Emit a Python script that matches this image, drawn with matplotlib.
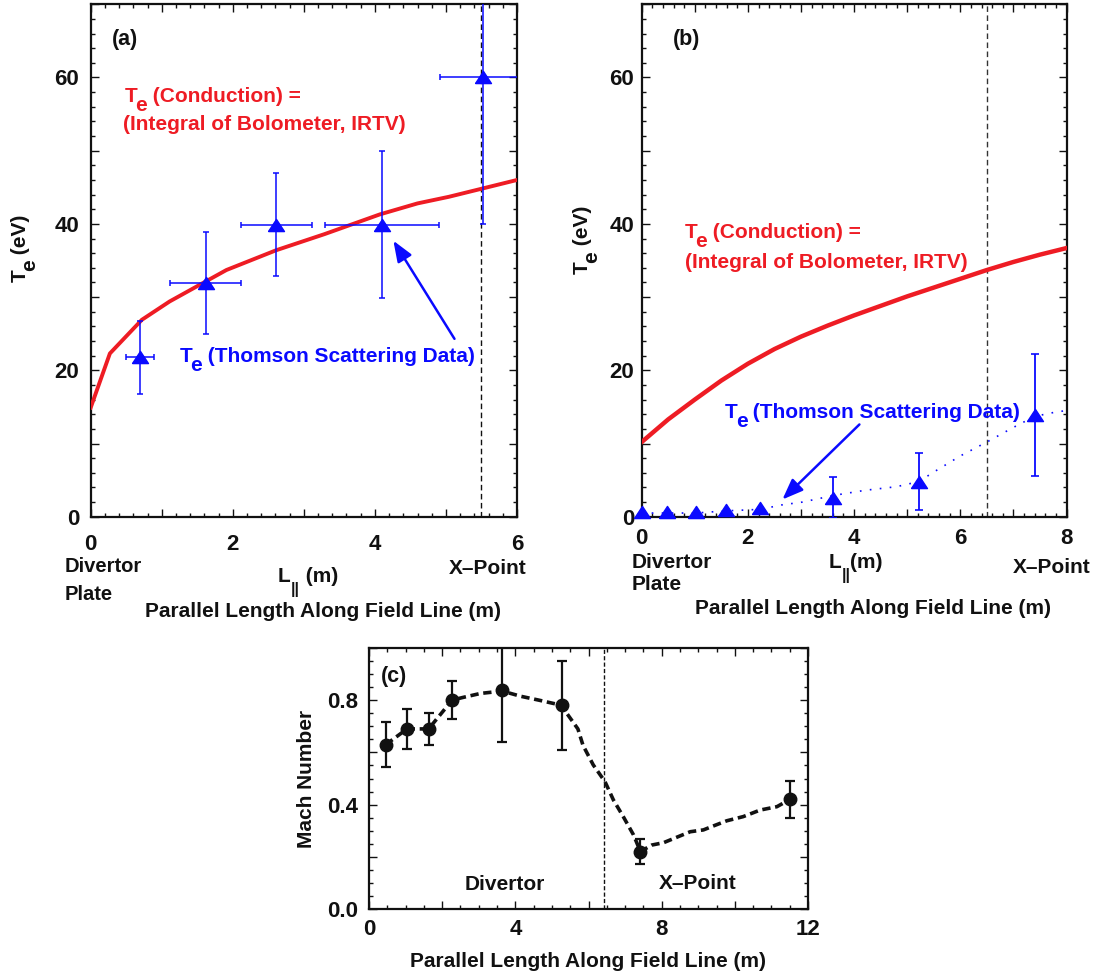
import matplotlib
matplotlib.use('Agg')
import matplotlib.pyplot as plt
from matplotlib.ticker import MultipleLocator, FuncFormatter

# ---------------- data ----------------
# panel (a)
a_curve_x = [0.0, 0.27, 0.72, 1.11, 1.91, 2.61, 3.29, 4.07, 4.6, 5.04, 5.5, 6.0]
a_curve_y = [14.9, 22.3, 26.9, 29.4, 33.7, 36.4, 38.6, 41.3, 42.8, 43.7, 44.8, 46.0]
a_ts_x = [0.69, 1.62, 2.61, 4.10, 5.52]
a_ts_y = [21.8, 31.9, 39.9, 39.9, 60.0]
a_ts_xerr = [0.2, 0.5, 0.5, 0.8, 0.6]
a_ts_yerr = [5.0, 7.0, 7.0, 10.0, 20.0]
a_xpoint = 5.5

# panel (b)
b_curve_x = [0.0, 0.5, 1.0, 1.5, 2.0, 2.5, 3.0, 3.5, 4.0, 4.5, 5.0, 5.5, 6.0, 6.5, 7.0, 7.5, 8.0]
b_curve_y = [10.2, 13.3, 16.0, 18.6, 20.9, 22.9, 24.6, 26.1, 27.5, 28.8, 30.1, 31.3, 32.5,
             33.7, 34.8, 35.8, 36.7]
b_ts_x = [0.0, 0.47, 1.02, 1.59, 2.23, 3.61, 5.22, 7.40]
b_ts_y = [0.6, 0.6, 0.6, 0.9, 1.2, 2.6, 4.8, 13.9]
b_ts_yerr = [0.0, 0.0, 0.0, 0.0, 0.0, 2.8, 3.95, 8.3]
b_fit_x = [0.0, 0.47, 1.02, 1.59, 2.23, 2.63, 3.03, 3.61, 4.2, 4.8, 5.22, 5.5, 6.0, 6.5, 7.0, 7.4, 7.8, 8.0]
b_fit_y = [0.5, 0.5, 0.5, 0.8, 1.0, 1.6, 2.0, 2.9, 3.6, 4.1, 4.8, 6.1, 8.3, 10.2, 12.2, 13.7, 14.3, 14.5]
b_xpoint = 6.5

# panel (c)
c_x = [0.46, 1.04, 1.63, 2.27, 3.64, 5.28, 7.42, 11.51]
c_y = [0.63, 0.69, 0.69, 0.80, 0.84, 0.78, 0.22, 0.42]
c_err = [0.085, 0.077, 0.06, 0.072, 0.20, 0.17, 0.047, 0.072]
c_line_x = [0.46, 1.04, 1.63, 2.27, 2.55, 3.05, 3.64, 4.15, 4.65, 5.28, 5.41, 5.71, 5.85,
            6.13, 6.45, 6.68, 6.95, 7.23, 7.42, 7.73, 8.05, 8.78, 9.14, 9.41, 9.78,
            10.23, 10.69, 11.15, 11.51]
c_line_y = [0.63, 0.69, 0.69, 0.80, 0.81, 0.826, 0.835, 0.815, 0.80, 0.78, 0.749, 0.69, 0.627,
            0.552, 0.488, 0.418, 0.354, 0.284, 0.22, 0.245, 0.254, 0.296, 0.303, 0.318, 0.338,
            0.354, 0.379, 0.392, 0.42]
c_xpoint = 6.42

# ---------------- style ----------------
plt.rcParams.update({
    'font.family': ['Liberation Sans', 'DejaVu Sans'],
    'font.weight': 'bold',
    'mathtext.fontset': 'custom',
    'mathtext.rm': 'Liberation Sans:bold',
    'mathtext.bf': 'Liberation Sans:bold',
    'mathtext.default': 'bf',
})

RED = '#ee1c24'
BLUE = '#0a0aff'
TXT = '#111111'
TRI = [(-1, -0.76), (1, -0.76), (0, 0.76), (-1, -0.76)]

W, H = 1099, 976
fig = plt.figure(figsize=(W / 100, H / 100), dpi=100)


def rect(l, t, r, b):
    return [l / W, 1 - b / H, (r - l) / W, (b - t) / H]


axA = fig.add_axes(rect(90.7, 4.3, 517, 516.7))
axB = fig.add_axes(rect(641.7, 4.3, 1066.5, 516.7))
axC = fig.add_axes(rect(369, 648, 808, 909))


def style(ax, xmaj, xlab, xmin, ymaj, ylab, ymin, fmt, xpad, ypad):
    ax.xaxis.set_major_locator(MultipleLocator(xmaj))
    ax.xaxis.set_minor_locator(MultipleLocator(xmin))
    ax.yaxis.set_major_locator(MultipleLocator(ymaj))
    ax.yaxis.set_minor_locator(MultipleLocator(ymin))
    ax.xaxis.set_major_formatter(FuncFormatter(
        lambda v, p: fmt[0](v) if abs(v / xlab - round(v / xlab)) < 1e-6 else ''))
    ax.yaxis.set_major_formatter(FuncFormatter(
        lambda v, p: fmt[1](v) if abs(v / ylab - round(v / ylab)) < 1e-6 else ''))
    ax.tick_params(which='both', direction='in', top=True, right=True, width=1.0, color=TXT)
    ax.tick_params(which='major', length=6)
    ax.tick_params(which='minor', length=3.2)
    ax.tick_params(axis='x', pad=xpad, labelsize=16, labelcolor=TXT)
    ax.tick_params(axis='y', pad=ypad, labelsize=16, labelcolor=TXT)
    for sp in ax.spines.values():
        sp.set_linewidth(1.6)
        sp.set_color(TXT)


def sub_text(ax, x, y, base, sub, rest, color, size=15, subsize=15, drop=6.5,
             coords='data', gap=-1.5):
    t1 = ax.annotate(base, xy=(x, y), xycoords=coords, fontsize=size, color=color,
                     ha='left', va='baseline', annotation_clip=False)
    t2 = ax.annotate(sub, xy=(1, 0), xycoords=t1, xytext=(gap, -drop),
                     textcoords='offset points', fontsize=subsize, color=color,
                     ha='left', va='bottom')
    ax.annotate(rest, xy=(1, 0), xycoords=t2, xytext=(0, drop),
                textcoords='offset points', fontsize=size, color=color,
                ha='left', va='bottom')


def rot_sub_text(ax, x, y, base, sub, rest, color=TXT, size=15, subsize=15, drop=6.5,
                 gap=-1.5):
    # x = right (descent) edge, y = bottom start, pixels from top-left
    t1 = ax.annotate(base, xy=(x, H - y), xycoords='figure pixels', fontsize=size,
                     color=color, rotation=90, ha='right', va='bottom',
                     annotation_clip=False)
    t2 = ax.annotate(sub, xy=(1, 1), xycoords=t1, xytext=(drop, gap),
                     textcoords='offset points', fontsize=subsize, color=color,
                     rotation=90, ha='right', va='bottom')
    ax.annotate(rest, xy=(1, 1), xycoords=t2, xytext=(-drop, 0),
                textcoords='offset points', fontsize=size, color=color,
                rotation=90, ha='right', va='bottom')


def ftext(x, y, s, size=15, **kw):
    fig.text(x / W, 1 - y / H, s, fontsize=size, color=TXT, va='baseline', **kw)


def intfmt(v):
    return f'{v:g}'


# ---------------- panel (a) ----------------
style(axA, 1, 2, 0.2, 10, 20, 2, (intfmt, intfmt), 12.5, 8.2)
axA.set_xlim(0, 6)
axA.set_ylim(0, 70)
axA.axvline(a_xpoint, color=TXT, lw=1.0, ls=(0, (4, 2.5)), zorder=2)
axA.plot(a_curve_x, a_curve_y, color=RED, lw=2.8, zorder=3)
axA.errorbar(a_ts_x, a_ts_y, xerr=a_ts_xerr, yerr=a_ts_yerr, fmt='none', ecolor=BLUE,
             elinewidth=1.1, capsize=2.5, capthick=1.1, zorder=4)
axA.plot(a_ts_x, a_ts_y, ls='none', marker=TRI, ms=11.5, color=BLUE, zorder=5,
         clip_on=False)
axA.text(0.48, 65.2, '(a)', fontsize=15.5, color=TXT, ha='center', va='center')
sub_text(axA, 0.48, 56.7, 'T', 'e', ' (Conduction) =', RED)
axA.text(0.46, 52.8, '(Integral of Bolometer, IRTV)', fontsize=15, color=RED,
         ha='left', va='baseline')
sub_text(axA, 1.25, 21.2, 'T', 'e', ' (Thomson Scattering Data)', BLUE)
axA.annotate('', xy=(4.26, 37.7), xytext=(5.12, 24.3),
             arrowprops=dict(arrowstyle='-|>,head_length=0.9,head_width=0.35',
                             color=BLUE, lw=1.8, shrinkA=0, shrinkB=0,
                             mutation_scale=14))
rot_sub_text(axA, 30, 282, 'T', 'e', ' (eV)')
ftext(65, 571.7, 'Divertor', 14.5)
ftext(65, 600, 'Plate', 14.5)
sub_text(axA, 278, H - 582, 'L', '||', ' (m)', TXT, size=15, subsize=11.5, drop=8,
         coords='figure pixels', gap=0.3)
ftext(449, 574, 'X\u2013Point', 15)
ftext(145, 617, 'Parallel Length Along Field Line (m)', 15)

# ---------------- panel (b) ----------------
style(axB, 1, 2, 0.2, 10, 20, 2, (intfmt, intfmt), 8.3, 5.5)
axB.set_xlim(0, 8)
axB.set_ylim(0, 70)
axB.axvline(b_xpoint, color='#333333', lw=1.0, ls=(0, (4, 2.5)), zorder=2)
axB.plot(b_curve_x, b_curve_y, color=RED, lw=3.2, zorder=3)
axB.plot(b_fit_x, b_fit_y, color=BLUE, lw=1.2, ls=(0, (1, 5)), zorder=3)
ex = [x for x, e in zip(b_ts_x, b_ts_yerr) if e > 0]
ey = [y for y, e in zip(b_ts_y, b_ts_yerr) if e > 0]
ee = [e for e in b_ts_yerr if e > 0]
axB.errorbar(ex, ey, yerr=ee, fmt='none', ecolor=BLUE, elinewidth=1.3, capsize=3,
             capthick=1.2, zorder=4)
axB.plot(b_ts_x, b_ts_y, ls='none', marker=TRI, ms=11.5, color=BLUE, zorder=5,
         clip_on=False)
axB.text(0.84, 65.2, '(b)', fontsize=15.5, color=TXT, ha='center', va='center')
sub_text(axB, 0.81, 38.1, 'T', 'e', ' (Conduction) =', RED)
axB.text(0.81, 34.0, '(Integral of Bolometer, IRTV)', fontsize=15, color=RED,
         ha='left', va='baseline')
sub_text(axB, 1.57, 13.5, 'T', 'e', ' (Thomson Scattering Data)', BLUE)
axB.annotate('', xy=(2.65, 2.35), xytext=(4.1, 12.6),
             arrowprops=dict(arrowstyle='-|>,head_length=0.9,head_width=0.35',
                             color=BLUE, lw=1.8, shrinkA=0, shrinkB=0,
                             mutation_scale=14))
rot_sub_text(axB, 591.8, 273.7, 'T', 'e', ' (eV)')
ftext(631.7, 568, 'Divertor', 15)
ftext(631.7, 590, 'Plate', 15)
sub_text(axB, 828.3, H - 568.3, 'L', '||', '(m)', TXT, size=15, subsize=11.5, drop=8,
         coords='figure pixels', gap=0.3)
ftext(1013.3, 573, 'X\u2013Point', 15)
ftext(695, 614, 'Parallel Length Along Field Line (m)', 15)

# ---------------- panel (c) ----------------
style(axC, 2, 4, 0.5, 0.2, 0.4, 0.05, (intfmt, lambda v: f'{v:.1f}'), 7.0, 8.0)
axC.set_xlim(0, 12)
axC.set_ylim(0, 1.0)
axC.axvline(c_xpoint, color=TXT, lw=1.0, ls=(0, (3, 1.6)), zorder=2)
axC.plot(c_line_x, c_line_y, color=TXT, lw=2.6, ls=(0, (2.3, 1.3)), zorder=3)
axC.errorbar(c_x, c_y, yerr=c_err, fmt='o', color=TXT, ms=9, elinewidth=1.6,
             capsize=3.5, capthick=1.6, zorder=4)
axC.text(0.68, 0.89, '(c)', fontsize=15.5, color=TXT, ha='center', va='center')
axC.text(3.71, 0.073, 'Divertor', fontsize=15, color=TXT, ha='center', va='baseline')
axC.text(8.98, 0.075, 'X\u2013Point', fontsize=15, color=TXT, ha='center', va='baseline')
fig.text(588.5 / W, 1 - 967 / H, 'Parallel Length Along Field Line (m)', fontsize=15,
         color=TXT, ha='center', va='baseline')
fig.text(307 / W, 1 - 778.5 / H, 'Mach Number', fontsize=15, color=TXT, ha='center',
         va='center', rotation=90)

fig.savefig('out.png', dpi=100)
